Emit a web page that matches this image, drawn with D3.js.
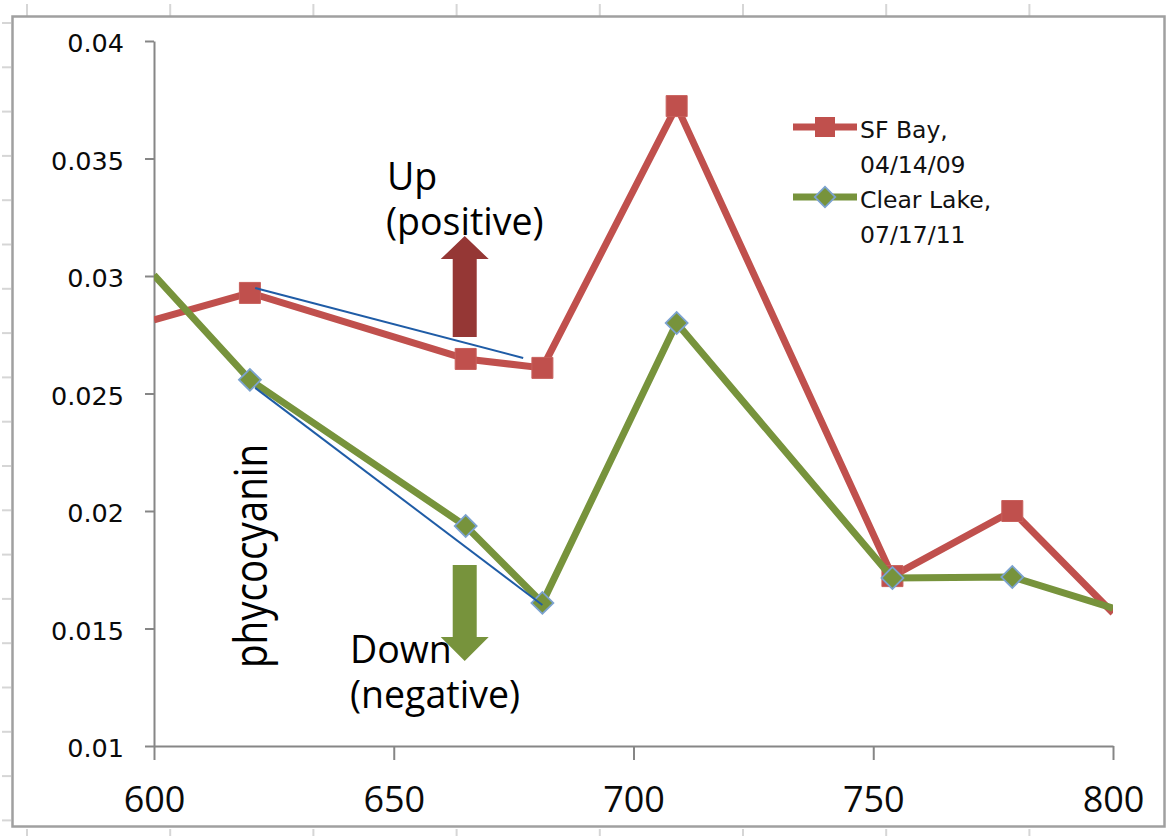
<!DOCTYPE html>
<html>
<head>
<meta charset="utf-8">
<script src="https://cdn.jsdelivr.net/npm/d3@7"></script>
<style>
    body { margin: 0; background: #fff; }
    svg { display: block; }
</style>
</head>
<body>
<div id="chart"></div>
<script>
// wavelength (nm); 600 and 800 are where the lines leave the plot, no marker there
const wavelengths = [600, 620, 665, 681, 709, 754, 779, 800];
const sfBay = [0.02813, 0.02928, 0.02647, 0.02609, 0.03723, 0.01723, 0.0200, 0.01566];
const clearLake = [0.03004, 0.02558, 0.01936, 0.01609, 0.0280, 0.01715, 0.01719, 0.01587];

const xTicks = [600, 650, 700, 750, 800];
const yTicks = [0.01, 0.015, 0.02, 0.025, 0.03, 0.035, 0.04];
const yTickLabels = ["0.01", "0.015", "0.02", "0.025", "0.03", "0.035", "0.04"];

const seriesNames = [["SF Bay,", "04/14/09"], ["Clear Lake,", "07/17/11"]];

// hand-drawn slope lines, in data units [wavelength, value]
const slopeLines = [
    [[621.1, 0.02949], [677.0, 0.02651]],
    [[621.1, 0.02524], [681.0, 0.0160]]
];
// block arrows: wavelength, shaft end, head base, tip
const upArrow = { wl: 664.8, from: 0.0274, headBase: 0.03072, tip: 0.0317 };
const downArrow = { wl: 664.8, from: 0.0177, headBase: 0.01464, tip: 0.01362 };

const width = 1166, height = 836;
const plot = { left: 154, right: 1113, top: 41, bottom: 746 };

const svg = d3.select("#chart")
    .append("svg")
    .attr("width", width)
    .attr("height", height);

// spreadsheet cell lines around the chart object
const cellColor = "#d6d6d6";
svg.append("g")
    .selectAll("line")
    .data(d3.range(27, width, 143.2))
    .join("line")
    .attr("x1", d => d).attr("x2", d => d)
    .attr("y1", 4).attr("y2", 16)
    .attr("stroke", cellColor).attr("stroke-width", 2);
svg.append("g")
    .selectAll("line")
    .data(d3.range(27, width, 143.2))
    .join("line")
    .attr("x1", d => d).attr("x2", d => d)
    .attr("y1", 829).attr("y2", height)
    .attr("stroke", cellColor).attr("stroke-width", 2);
svg.append("g")
    .selectAll("line")
    .data(d3.range(23, height, 44.3))
    .join("line")
    .attr("x1", 2).attr("x2", 11)
    .attr("y1", d => d).attr("y2", d => d)
    .attr("stroke", cellColor).attr("stroke-width", 2);

// chart frame
svg.append("rect")
    .attr("x", 12.5)
    .attr("y", 16.5)
    .attr("width", 1152)
    .attr("height", 810)
    .attr("fill", "#fff")
    .attr("stroke", "#a0a0a0")
    .attr("stroke-width", 2.5);

const x = d3.scaleLinear().domain([600, 800]).range([plot.left, plot.right]);
const y = d3.scaleLinear().domain([0.01, 0.04]).range([plot.bottom, plot.top]);

// axes
const axisColor = "#868686";
const yAxis = svg.append("g")
    .attr("transform", `translate(${plot.left},0)`)
    .call(d3.axisLeft(y)
        .tickValues(yTicks)
        .tickFormat((d, i) => yTickLabels[i])
        .tickSize(9)
        .tickSizeOuter(0)
        .tickPadding(21));
yAxis.selectAll("text")
    .attr("dy", "0.42em")
    .attr("font-family", "'DejaVu Sans', sans-serif")
    .attr("font-size", 25.5)
    .attr("fill", "#0a0a0a");

const xAxis = svg.append("g")
    .attr("transform", `translate(0,${plot.bottom})`)
    .call(d3.axisBottom(x)
        .tickValues(xTicks)
        .tickFormat(d3.format("d"))
        .tickSize(14)
        .tickSizeOuter(0)
        .tickPadding(26));
xAxis.selectAll("text")
    .attr("font-family", "'Open Sans', sans-serif")
    .attr("font-size", 36)
    .attr("fill", "#0a0a0a");

[xAxis, yAxis].forEach(a => {
    a.select(".domain").attr("stroke", axisColor).attr("stroke-width", 2);
    a.selectAll(".tick line").attr("stroke", axisColor).attr("stroke-width", 2);
});

// series lines
svg.append("defs")
    .append("clipPath")
    .attr("id", "plot-clip")
    .append("rect")
    .attr("x", plot.left)
    .attr("y", 0)
    .attr("width", plot.right - plot.left)
    .attr("height", plot.bottom);

const series = [
    { values: sfBay, color: "#c0504d", marker: "square" },
    { values: clearLake, color: "#77933c", marker: "diamond" }
];

const line = d3.line()
    .x((d, i) => x(wavelengths[i]))
    .y(d => y(d));

const squareSym = d3.symbol(d3.symbolSquare, 21 * 21);
const diamondSym = d3.symbol(d3.symbolSquare, 15.5 * 15.5);

const plotArea = svg.append("g").attr("clip-path", "url(#plot-clip)");

series.forEach(s => {
    plotArea.append("path")
        .datum(s.values)
        .attr("fill", "none")
        .attr("stroke", s.color)
        .attr("stroke-width", 7)
        .attr("stroke-linejoin", "round")
        .attr("d", line);

    const pts = s.values
        .map((v, i) => ({ wl: wavelengths[i], v }))
        .filter(p => p.wl > 600 && p.wl < 800);

    const marks = plotArea.selectAll(`.mark-${s.marker}`)
        .data(pts)
        .join("path")
        .attr("class", `mark-${s.marker}`);

    if (s.marker === "square") {
        marks.attr("d", squareSym)
            .attr("transform", p => `translate(${x(p.wl)},${y(p.v)})`)
            .attr("fill", s.color)
            .attr("stroke", "#c8605c")
            .attr("stroke-width", 1);
    } else {
        marks.attr("d", diamondSym)
            .attr("transform", p => `translate(${x(p.wl)},${y(p.v)}) rotate(45)`)
            .attr("fill", s.color)
            .attr("stroke", "#7ba2cf")
            .attr("stroke-width", 1.8);
    }
});

// blue slope lines
svg.append("g")
    .selectAll("line")
    .data(slopeLines)
    .join("line")
    .attr("x1", d => x(d[0][0]))
    .attr("y1", d => y(d[0][1]))
    .attr("x2", d => x(d[1][0]))
    .attr("y2", d => y(d[1][1]))
    .attr("stroke", "#1f5ca6")
    .attr("stroke-width", 2);

// block arrows
function arrowPath(a) {
    const cx = x(a.wl), shaftW = 12, headW = 24;
    const y0 = y(a.from), y1 = y(a.headBase), y2 = y(a.tip);
    return `M${cx - shaftW},${y0}L${cx - shaftW},${y1}L${cx - headW},${y1}` +
        `L${cx},${y2}L${cx + headW},${y1}L${cx + shaftW},${y1}L${cx + shaftW},${y0}Z`;
}
svg.append("path").attr("d", arrowPath(upArrow)).attr("fill", "#953735");
svg.append("path").attr("d", arrowPath(downArrow)).attr("fill", "#77933c");

// annotation text
const note = svg.append("g")
    .attr("font-family", "'Open Sans', sans-serif")
    .attr("font-size", 37.5)
    .attr("fill", "#000");
note.append("text").attr("x", 387).attr("y", 190).text("Up");
note.append("text").attr("x", 386).attr("y", 235).text("(positive)");
note.append("text").attr("x", 350).attr("y", 663).text("Down");
note.append("text").attr("x", 350).attr("y", 708).text("(negative)");

svg.append("text")
    .attr("transform", "translate(267,668) rotate(-90) scale(1,1.2)")
    .attr("font-family", "'Open Sans', sans-serif")
    .attr("font-size", 38.5)
    .attr("fill", "#000")
    .text("phycocyanin");

// legend
const legend = svg.append("g").attr("transform", "translate(793,127)");
series.forEach((s, i) => {
    const row = legend.append("g").attr("transform", `translate(0,${i * 70})`);
    row.append("line")
        .attr("x1", 0).attr("x2", 64)
        .attr("stroke", s.color)
        .attr("stroke-width", 7);
    if (s.marker === "square") {
        row.append("path")
            .attr("d", d3.symbol(d3.symbolSquare, 20 * 20))
            .attr("transform", "translate(32,0)")
            .attr("fill", s.color);
    } else {
        row.append("path")
            .attr("d", d3.symbol(d3.symbolSquare, 14.5 * 14.5))
            .attr("transform", "translate(32,0) rotate(45)")
            .attr("fill", s.color)
            .attr("stroke", "#7ba2cf")
            .attr("stroke-width", 1.8);
    }
    row.selectAll("text")
        .data(seriesNames[i])
        .join("text")
        .attr("x", 67)
        .attr("y", (d, j) => 11 + j * 35)
        .attr("font-family", "'DejaVu Sans', sans-serif")
        .attr("font-size", 23.5)
        .attr("fill", "#111")
        .text(d => d);
});
</script>
</body>
</html>
